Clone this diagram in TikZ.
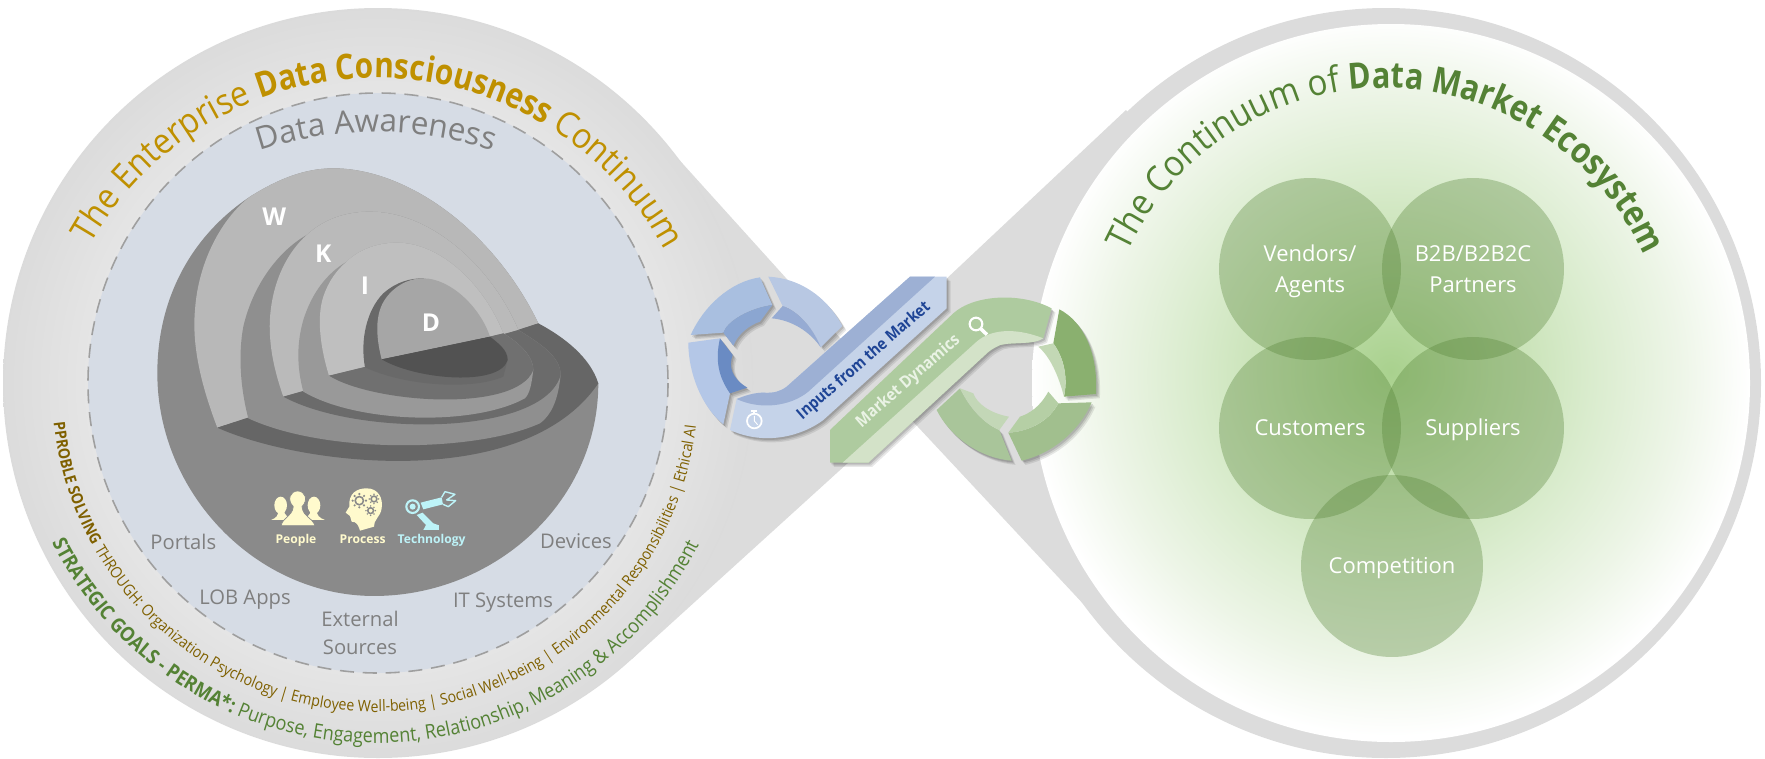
\documentclass[tikz,border=0pt]{standalone}
\usepackage{fontspec}
\setmainfont{Open Sans}
\newfontfamily\arcfont[FakeStretch=0.92, BoldFeatures={FakeStretch=0.85}]{Open Sans}
\newfontfamily\narrowfont[FakeStretch=0.9]{Open Sans}
\usetikzlibrary{decorations.text}

\definecolor{lobegrey}{HTML}{DCDCDC}
\definecolor{awarefill}{HTML}{D6DCE5}
\definecolor{goldtitle}{HTML}{BF9000}
\definecolor{olivetext}{HTML}{7F6000}
\definecolor{greentitle}{HTML}{548235}
\definecolor{labelgrey}{HTML}{7F7F7F}
\definecolor{iconyellow}{HTML}{FFFACD}
\definecolor{iconcyan}{HTML}{BDF3F8}
\definecolor{inputblue}{HTML}{1F4596}
\definecolor{dynamictext}{HTML}{EAF3E5}
\definecolor{glowa}{HTML}{A9D18E}
\definecolor{glowb}{HTML}{C6E1B3}
\definecolor{glowc}{HTML}{DAECCE}
\definecolor{glowd}{HTML}{EDF5E7}
\definecolor{blueface}{HTML}{C5D3E9}
\definecolor{blueband}{HTML}{9DB0D4}
\definecolor{greenface}{HTML}{AECB9F}
\definecolor{greenband}{HTML}{D3E2C8}
\definecolor{blueone}{HTML}{B8C8E3}
\definecolor{bluetwo}{HTML}{96ABD3}
\definecolor{bluethree}{HTML}{A9BFE0}
\definecolor{bluefour}{HTML}{8BA6D1}
\definecolor{bluefive}{HTML}{B4C7E7}
\definecolor{bluesix}{HTML}{6A8BC3}
\definecolor{greenone}{HTML}{8AB06F}
\definecolor{greentwo}{HTML}{C3D8B5}
\definecolor{greenthree}{HTML}{A1BF8E}
\definecolor{greenfour}{HTML}{B5CFA5}
\definecolor{greenfive}{HTML}{A9C59A}
\definecolor{greensix}{HTML}{C3D7B7}

\pgfdeclareradialshading{lobeshade}{\pgfpointorigin}{%
  color(0bp)=(white!88!black); color(19bp)=(white!90!black); color(25bp)=(white!86!black); color(50bp)=(white!86!black)}
\pgfdeclareradialshading{glowshade}{\pgfpoint{0bp}{0.8bp}}{%
  color(0bp)=(glowa); color(8bp)=(glowb); color(14bp)=(glowc); color(20bp)=(glowd); color(25bp)=(white); color(50bp)=(white)}

\tikzset{
  venn/.style={circle, fill=greentitle, fill opacity=0.34, text opacity=1, text=white,
    minimum size=3.64cm, inner sep=0pt, align=center, font=\fontsize{12.5}{17.6}\selectfont},
  sidelabel/.style={text=labelgrey, align=center, inner sep=0pt, font=\fontsize{11.5}{16}\selectfont},
  corelabel/.style={text=white, inner sep=0pt, font=\fontsize{14}{16}\selectfont\bfseries},
  iconlabel/.style={anchor=base, inner sep=0pt, font=\fontsize{6.9}{8}\selectfont\bfseries},
  ribbonshadow/.style={
    preaction={fill=black, fill opacity=0.09, transform canvas={shift={(2.2pt,-2.4pt)}}},
    preaction={fill=black, fill opacity=0.10, transform canvas={shift={(1.5pt,-1.7pt)}}},
    preaction={fill=black, fill opacity=0.12, transform canvas={shift={(0.8pt,-1pt)}}}},
  ringtext/.style={decorate, decoration={text along path, text align=center, raise=0pt, #1}},
}

\newcommand{\vs}{\rule[-3pt]{0pt}{15pt}}
\newcommand{\gearicon}[3]{%
  \foreach \t in {0,45,...,315} {
    \fill [white!54!black] (#1,#2) ++(\t:#3) circle [radius=#3*0.18];
  }
  \draw [white!54!black, line width=0.9pt] (#1,#2) circle [radius=#3*0.62];
}

\begin{document}
\begin{tikzpicture}[x=0.02cm, y=-0.02cm]
    \useasboundingbox (0, 0) rectangle (1765, 758);

    % grey band behind both lobes
    \fill [lobegrey] (655, 133) -- (860, 360) -- (1126, 110)
        -- (1386, 383) -- (1116, 639) -- (904, 412) -- (632, 659)
        -- (378, 383) -- cycle;
    \fill [lobegrey] (1386, 383) circle [radius=375];
    \shade [shading=lobeshade] (378, 383) circle [radius=375];
    \shade [shading=glowshade] (1391, 383) circle [radius=359];

    \draw [fill=awarefill, draw=gray!75, line width=0.9pt, dash pattern=on 8pt off 5pt] (378, 383) circle [radius=290];

    % curved titles
    \path [ringtext={text color=goldtitle, text={|\fontsize{20}{24}\arcfont|The Enterprise |\fontsize{20}{24}\arcfont\bfseries|Data Consciousness |\fontsize{20}{24}\arcfont|Continuum}}]
        (376, 406) ++(208.5:328) arc [start angle=208.5, end angle=332.8, radius=328];
    \path [ringtext={text color=labelgrey, text={|\fontsize{18}{22}\selectfont|Data Awareness}}]
        (376, 502) ++(250.6:370) arc [start angle=250.6, end angle=289.4, radius=370];
    \path [ringtext={text color=greentitle, text={|\fontsize{20.5}{24}\arcfont|The Continuum of |\fontsize{20.5}{24}\arcfont\bfseries|Data Market Ecosystem}}]
        (1385, 372) ++(204.3:284) arc [start angle=204.3, end angle=336.3, radius=284];
    \path [ringtext={text color=olivetext, text={|\fontsize{8.95}{10}\narrowfont\bfseries|PPROBLE SOLVING |\fontsize{8.95}{10}\narrowfont|THROUGH: Organization Psychology {\textbar} Employee Well-being {\textbar} Social Well-being {\textbar} Environmental Responsibilities {\textbar} Ethical AI}}]
        (375, 389) ++(175.6:323) arc [start angle=175.6, end angle=5, radius=323];
    \path [ringtext={text color=greentitle, text={|\fontsize{11.4}{13}\narrowfont\bfseries|STRATEGIC GOALS - PERMA*: |\fontsize{11.4}{13}\narrowfont|Purpose, Engagement, Relationship, Meaning {\&} Accomplishment}}]
        (376, 381) ++(154.4:362) arc [start angle=154.4, end angle=26, radius=362];

    % layered half sphere, same scale as a 3x crop
    \begin{scope}[shift={(140, 160)}, x=0.006667cm, y=-0.006667cm]
        \fill [white!54!black] (52, 640) .. controls (52, 420) and (150, 230) .. (330, 110)
            .. controls (410, 60) and (490, 25) .. (580, 25)
            .. controls (800, 25) and (1060, 210) .. (1195, 490) -- (1375, 670)
            .. controls (1375, 1030) and (1060, 1308) .. (702, 1308)
            .. controls (350, 1308) and (52, 1000) .. (52, 640) -- cycle;
        \fill [white!72!black] (232, 803) .. controls (185, 680) and (155, 560) .. (165, 450)
            .. controls (175, 300) and (250, 170) .. (330, 110)
            .. controls (410, 60) and (490, 25) .. (580, 25)
            .. controls (800, 25) and (1060, 210) .. (1195, 490) -- cycle;
        \fill [white!40!black] (232, 803) .. controls (480, 915) and (1150, 1000) .. (1375, 670)
            .. controls (1350, 590) and (1270, 530) .. (1195, 490) -- cycle;

        \fill [white!56!black] (325, 775) .. controls (300, 680) and (295, 580) .. (310, 500)
            .. controls (340, 370) and (420, 270) .. (500, 225)
            .. controls (560, 170) and (630, 155) .. (690, 155)
            .. controls (880, 155) and (1060, 330) .. (1135, 510)
            .. controls (1200, 550) and (1262, 590) .. (1262, 645)
            .. controls (1255, 710) and (1240, 760) .. (1200, 790)
            .. controls (1000, 880) and (550, 880) .. (325, 775) -- cycle;
        \fill [white!73!black] (430, 710) .. controls (395, 610) and (380, 520) .. (395, 430)
            .. controls (410, 340) and (450, 270) .. (500, 225)
            .. controls (560, 170) and (630, 155) .. (690, 155)
            .. controls (880, 155) and (1060, 330) .. (1135, 510) -- cycle;
        \fill [white!42!black] (430, 710) .. controls (650, 830) and (1210, 830) .. (1262, 645)
            .. controls (1262, 590) and (1200, 550) .. (1135, 510) -- cycle;

        \fill [white!60!black] (490, 695) .. controls (470, 620) and (470, 550) .. (490, 480)
            .. controls (515, 400) and (560, 340) .. (620, 305)
            .. controls (660, 265) and (720, 248) .. (770, 248)
            .. controls (900, 248) and (1030, 370) .. (1090, 520)
            .. controls (1140, 550) and (1180, 590) .. (1180, 630)
            .. controls (1175, 670) and (1170, 700) .. (1155, 715)
            .. controls (1000, 800) and (650, 790) .. (490, 695) -- cycle;
        \fill [white!75!black] (567, 647) .. controls (540, 560) and (530, 470) .. (550, 410)
            .. controls (565, 365) and (590, 330) .. (620, 305)
            .. controls (660, 265) and (720, 248) .. (770, 248)
            .. controls (900, 248) and (1030, 370) .. (1090, 520) -- cycle;
        \fill [white!44!black] (567, 647) .. controls (700, 730) and (1130, 760) .. (1180, 630)
            .. controls (1180, 590) and (1140, 550) .. (1090, 520) -- cycle;

        \fill [white!41!black] (675, 622) .. controls (660, 540) and (680, 450) .. (730, 400)
            .. controls (770, 365) and (810, 355) .. (850, 355) -- (1050, 530)
            .. controls (1075, 550) and (1103, 570) .. (1103, 600) -- (1090, 650)
            .. controls (1000, 690) and (800, 680) .. (675, 622) -- cycle;
        \fill [white!65!black] (725, 598) .. controls (705, 520) and (705, 450) .. (745, 405)
            .. controls (780, 365) and (820, 355) .. (850, 355)
            .. controls (930, 355) and (1020, 440) .. (1050, 530) -- cycle;
        \fill [white!32!black] (725, 598) .. controls (830, 660) and (1080, 680) .. (1103, 600)
            .. controls (1103, 570) and (1075, 550) .. (1050, 530) -- cycle;

        \node (wlabel) [corelabel] at (403, 170) {W};
        \node (klabel) [corelabel] at (550, 280) {K};
        \node (ilabel) [corelabel] at (675, 378) {I};
        \node (dlabel) [corelabel] at (873, 487) {D};

        % people icon
        \fill [iconyellow] (422, 1036) ellipse [x radius=19, y radius=26];
        \fill [iconyellow] (522, 1036) ellipse [x radius=19, y radius=26];
        \fill [iconyellow] (393, 1080) .. controls (410, 1074) and (415, 1066) .. (415, 1050) -- (432, 1050)
            .. controls (432, 1066) and (445, 1070) .. (455, 1080) -- cycle;
        \fill [iconyellow] (555, 1080) .. controls (538, 1074) and (530, 1066) .. (530, 1050) -- (512, 1050)
            .. controls (512, 1066) and (500, 1070) .. (490, 1080) -- cycle;
        \fill [iconyellow, draw=white!54!black, line width=0.4pt] (423, 1097) .. controls (430, 1070) and (455, 1072) .. (460, 1040)
            .. controls (440, 1020) and (450, 993) .. (473, 993) .. controls (496, 993) and (506, 1020) .. (486, 1040)
            .. controls (490, 1072) and (515, 1070) .. (525, 1097) -- cycle;
        \node (peoplelabel) [iconlabel, text=iconyellow] at (468, 1150) {People};

        % process icon
        \fill [iconyellow] (660, 1112) .. controls (655, 1095) and (650, 1085) .. (635, 1085)
            -- (630, 1068) -- (617, 1058) -- (628, 1040)
            .. controls (625, 1000) and (650, 985) .. (680, 985)
            .. controls (715, 985) and (730, 1015) .. (725, 1045)
            .. controls (722, 1070) and (700, 1080) .. (702, 1100) -- cycle;
        \gearicon{658}{1022}{20}
        \gearicon{702}{1017}{14}
        \gearicon{692}{1052}{14}
        \node (processlabel) [iconlabel, text=iconyellow] at (668, 1150) {Process};

        % technology icon
        \draw [iconcyan, line width=1.2pt] (818, 1040) circle [radius=19];
        \fill [iconcyan] (818, 1040) circle [radius=9];
        \fill [iconcyan] (842, 1028) -- (905, 1012) -- (909, 1033) -- (850, 1048) -- cycle;
        \draw [iconcyan, line width=0.8pt, line join=round] (905, 1012) -- (915, 995) -- (945, 1003) -- (920, 1020)
            -- (947, 1022) -- (925, 1040) -- (909, 1033);
        \fill [iconcyan] (830, 1065) -- (848, 1058) -- (880, 1090) -- (897, 1096) -- (897, 1110) -- (850, 1110) -- (858, 1095) -- cycle;
        \node (techlabel) [iconlabel, text=iconcyan] at (875, 1150) {Technology};

        \node (portals) [sidelabel] at (130, 1145) {Portals};
        \node (devices) [sidelabel] at (1308, 1145) {Devices};
    \end{scope}

    \node (lobapps) [sidelabel] at (245, 600) {LOB Apps};
    \node (external) [sidelabel] at (360, 633) {External\\Sources};
    \node (itsystems) [sidelabel] at (503, 603) {IT Systems};

    % overlapping circles on the right
    \node (vendors) [venn] at (1310, 269) {\vs Vendors/\\\vs Agents};
    \node (partners) [venn] at (1473, 269) {\vs B2B/B2B2C\\\vs Partners};
    \node (customers) [venn] at (1310, 428) {\vs Customers};
    \node (suppliers) [venn] at (1473, 428) {\vs Suppliers};
    \node (competition) [venn] at (1392, 566) {\vs Competition};

    % ribbon in the middle, same scale as a 3x crop
    \begin{scope}[shift={(660, 250)}, x=0.006667cm, y=-0.006667cm]
        \fill [blueone, ribbonshadow] (325, 80) .. controls (420, 85) and (500, 140) .. (547, 228)
            -- (482, 292) .. controls (465, 245) and (420, 185) .. (368, 168) -- cycle;
        \fill [bluetwo] (368, 168) .. controls (420, 185) and (465, 245) .. (482, 292)
            .. controls (450, 245) and (395, 210) .. (335, 205) -- cycle;
        \fill [bluethree, ribbonshadow] (92, 255) .. controls (130, 170) and (210, 95) .. (300, 82)
            -- (337, 165) .. controls (265, 175) and (200, 215) .. (190, 248) -- cycle;
        \fill [bluefour, ribbonshadow] (337, 165) .. controls (265, 175) and (200, 215) .. (190, 248)
            -- (220, 287) .. controls (235, 250) and (270, 225) .. (300, 215) -- cycle;
        \fill [bluefive, ribbonshadow] (85, 278) -- (180, 265) .. controls (170, 330) and (180, 380) .. (210, 430)
            -- (190, 523) .. controls (125, 470) and (85, 370) .. (85, 278) -- cycle;
        \fill [bluesix, ribbonshadow] (180, 265) -- (218, 315) .. controls (205, 350) and (215, 385) .. (262, 413)
            -- (210, 430) .. controls (175, 380) and (165, 330) .. (180, 265) -- cycle;

        \fill [blueface, ribbonshadow] (750, 80) -- (860, 80) -- (860, 175) -- (490, 510)
            .. controls (430, 555) and (320, 590) .. (210, 540) -- (230, 447)
            .. controls (260, 435) and (285, 428) .. (310, 428)
            .. controls (340, 430) and (360, 425) .. (380, 410) -- cycle;
        \fill [blueband] (750, 80) -- (825, 80) -- (445, 425)
            .. controls (390, 470) and (300, 480) .. (230, 447)
            .. controls (260, 435) and (285, 428) .. (310, 428)
            .. controls (340, 430) and (360, 425) .. (380, 410) -- cycle;

        \fill [greenone, ribbonshadow] (1198, 178) .. controls (1270, 215) and (1315, 310) .. (1308, 432)
            -- (1212, 440) .. controls (1225, 380) and (1210, 320) .. (1180, 280) -- cycle;
        \fill [greentwo] (1180, 280) -- (1135, 290) .. controls (1170, 320) and (1195, 375) .. (1212, 440)
            .. controls (1225, 380) and (1210, 320) .. (1180, 280) -- cycle;
        \fill [greenthree, ribbonshadow] (1295, 457) .. controls (1260, 540) and (1180, 610) .. (1085, 632)
            -- (1045, 548) .. controls (1110, 545) and (1170, 510) .. (1195, 460) -- cycle;
        \fill [greenfour] (1195, 460) -- (1165, 425) .. controls (1140, 470) and (1110, 490) .. (1080, 500)
            -- (1045, 548) .. controls (1110, 545) and (1170, 510) .. (1195, 460) -- cycle;
        \fill [greenfive, ribbonshadow] (1055, 632) .. controls (960, 625) and (870, 560) .. (830, 480)
            -- (900, 415) .. controls (925, 470) and (970, 520) .. (1018, 540) -- cycle;
        \fill [greensix] (900, 415) .. controls (925, 470) and (970, 520) .. (1018, 540)
            -- (1047, 500) .. controls (990, 490) and (950, 460) .. (940, 430) -- cycle;

        \fill [greenface, ribbonshadow] (510, 540) -- (880, 190) .. controls (940, 135) and (1080, 125) .. (1175, 175)
            -- (1150, 265) .. controls (1120, 285) and (1060, 275) .. (1020, 285) .. controls (1000, 295) and (990, 300) .. (975, 315)
            -- (625, 638) -- (510, 638) -- cycle;
        \fill [greenband] (548, 638) -- (950, 275) .. controls (990, 240) and (1060, 230) .. (1150, 265)
            .. controls (1120, 285) and (1060, 275) .. (1020, 285) .. controls (1000, 295) and (990, 300) .. (975, 315)
            -- (625, 638) -- cycle;

        \node (inputs) [rotate=41, inner sep=0pt, text=inputblue, font=\fontsize{9.2}{11}\narrowfont\bfseries] at (612, 333) {Inputs from the Market};
        \node (dynamics) [rotate=41, inner sep=0pt, text=dynamictext, font=\fontsize{9.5}{11}\narrowfont\bfseries] at (745, 395) {Market Dynamics};

        % stopwatch
        \draw [white, line width=1pt] (283, 513) circle [radius=22];
        \draw [white, line width=1pt] (283, 491) -- (283, 484) (274, 483) -- (292, 483);
        \draw [white, line width=0.5pt] (283, 513) -- (283, 498) (283, 513) -- (293, 524);
        % magnifier
        \draw [white, line width=1.2pt] (948, 222) circle [radius=19];
        \draw [white, line width=2pt] (962, 236) -- (981, 254);
    \end{scope}
\end{tikzpicture}
\end{document}
